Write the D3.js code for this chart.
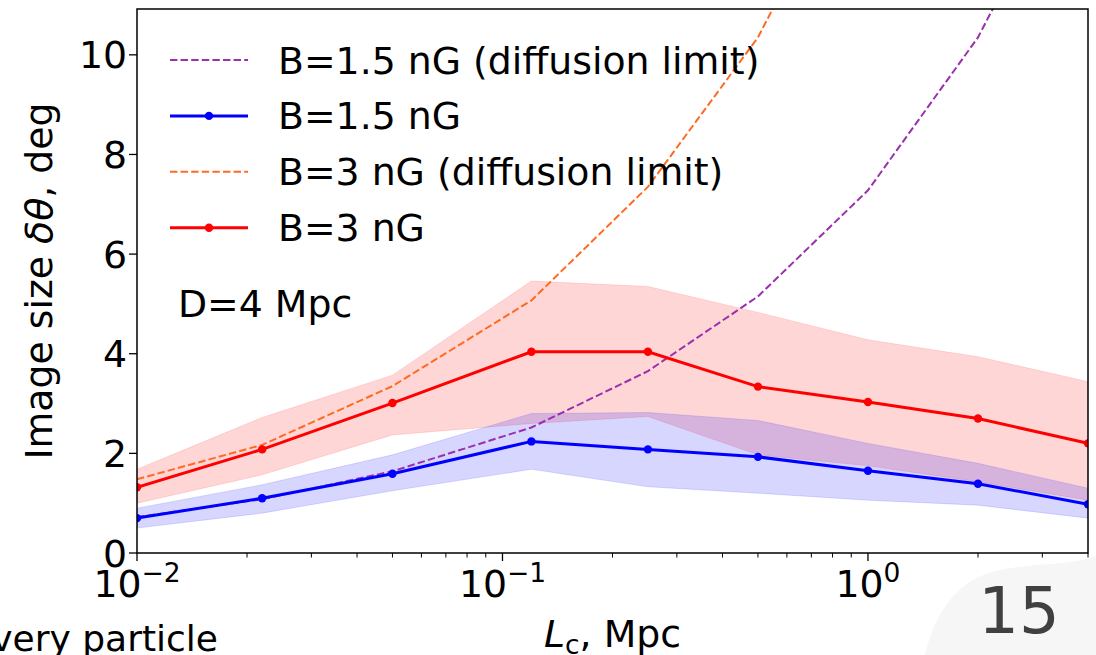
<!DOCTYPE html>
<html>
<head>
<meta charset="utf-8">
<script src="https://cdn.jsdelivr.net/npm/d3@7"></script>
<style>
  body { margin: 0; background: #fff; }
  text { font-family: "DejaVu Sans", sans-serif; fill: #000; }
</style>
</head>
<body>
<script>
const WIDTH = 1096;
const HEIGHT = 655;
const LEFT = 137, RIGHT = 1088, TOP = 9, BOTTOM = 553;
const FONT = 37.8;

// correlation length, Mpc
const Lc = [0.01, 0.022, 0.05, 0.12, 0.25, 0.5, 1, 2, 4];

// B = 1.5 nG
const b15 = [0.70, 1.10, 1.59, 2.24, 2.08, 1.93, 1.65, 1.39, 0.98];
const b15Lo = [0.50, 0.80, 1.25, 1.68, 1.33, 1.20, 1.06, 0.96, 0.70];
const b15Hi = [0.90, 1.37, 1.97, 2.80, 2.82, 2.66, 2.20, 1.80, 1.30];

// B = 3 nG
const b3 = [1.32, 2.08, 3.01, 4.04, 4.04, 3.34, 3.03, 2.70, 2.20];
const b3Lo = [1.00, 1.57, 2.37, 2.60, 2.74, 1.97, 1.75, 1.43, 1.06];
const b3Hi = [1.68, 2.72, 3.57, 5.46, 5.35, 4.83, 4.28, 3.94, 3.44];

// diffusion limits
const b15Diff = [0.72, 1.08, 1.64, 2.52, 3.65, 5.15, 7.28, 10.35, 14.6];
const b3Diff = [1.48, 2.17, 3.35, 5.07, 7.35, 10.35, 14.6, 20.7, 29.2];

const yTicks = [0, 2, 4, 6, 8, 10];
const xTicks = [0.01, 0.1, 1];
const xTickExp = ["−2", "−1", "0"];

const legendItems = [
  { label: "B=1.5 nG (diffusion limit)", color: "#9a30ad", dashed: true },
  { label: "B=1.5 nG", color: "#0000ff", dashed: false },
  { label: "B=3 nG (diffusion limit)", color: "#ff6a22", dashed: true },
  { label: "B=3 nG", color: "#ff0000", dashed: false }
];

let svg = d3.select("body")
            .append("svg")
            .attr("width", WIDTH)
            .attr("height", HEIGHT);

// faint slide decoration bottom right
svg.append("path")
   .attr("d", "M925,655 C935,612 958,578 1000,570 C1040,562 1070,566 1096,556 L1096,655 Z")
   .attr("fill", "#f6f6f6");

let x = d3.scaleLog().domain([0.01, 4]).range([LEFT, RIGHT]);
let y = d3.scaleLinear().domain([0, 10.92]).range([BOTTOM, TOP]);

svg.append("clipPath")
   .attr("id", "plot-clip")
   .append("rect")
   .attr("x", LEFT).attr("y", TOP)
   .attr("width", RIGHT - LEFT).attr("height", BOTTOM - TOP);

let plot = svg.append("g").attr("clip-path", "url(#plot-clip)");

const band = (lo, hi) => d3.area()
  .x((d, i) => x(Lc[i]))
  .y0((d, i) => y(lo[i]))
  .y1((d, i) => y(hi[i]))(Lc);

const line = (vals) => d3.line()
  .x((d, i) => x(Lc[i]))
  .y((d, i) => y(vals[i]))(Lc);

plot.append("path")
    .attr("d", band(b3Lo, b3Hi))
    .attr("fill", "#ff0000").attr("fill-opacity", 0.16)
    .attr("stroke", "#ff0000").attr("stroke-opacity", 0.12);

plot.append("path")
    .attr("d", band(b15Lo, b15Hi))
    .attr("fill", "#0000ff").attr("fill-opacity", 0.16)
    .attr("stroke", "#0000ff").attr("stroke-opacity", 0.12);

plot.append("path")
    .attr("d", line(b15Diff))
    .attr("fill", "none").attr("stroke", legendItems[0].color)
    .attr("stroke-width", 2).attr("stroke-dasharray", "7.4,3.2");

plot.append("path")
    .attr("d", line(b3Diff))
    .attr("fill", "none").attr("stroke", legendItems[2].color)
    .attr("stroke-width", 2).attr("stroke-dasharray", "7.4,3.2");

[[b15, legendItems[1].color], [b3, legendItems[3].color]].forEach(([vals, color]) => {
  plot.append("path")
      .attr("d", line(vals))
      .attr("fill", "none").attr("stroke", color)
      .attr("stroke-width", 3);
  plot.selectAll(null)
      .data(vals).enter()
      .append("circle")
      .attr("cx", (d, i) => x(Lc[i]))
      .attr("cy", d => y(d))
      .attr("r", 4.2)
      .attr("fill", color);
});

// axes frame
svg.append("rect")
   .attr("x", LEFT).attr("y", TOP)
   .attr("width", RIGHT - LEFT).attr("height", BOTTOM - TOP)
   .attr("fill", "none").attr("stroke", "#000").attr("stroke-width", 1.5);

// y ticks
let yAxis = svg.append("g");
yAxis.selectAll("line")
     .data(yTicks).enter()
     .append("line")
     .attr("x1", LEFT - 8).attr("x2", LEFT)
     .attr("y1", d => y(d)).attr("y2", d => y(d))
     .attr("stroke", "#000").attr("stroke-width", 1.3);
yAxis.selectAll("text")
     .data(yTicks).enter()
     .append("text")
     .attr("x", LEFT - 10)
     .attr("y", d => y(d) + 13.5)
     .attr("text-anchor", "end")
     .attr("font-size", FONT)
     .text(d => d);

// x ticks, major and minor
let minor = [];
[0.01, 0.1, 1].forEach(dec => {
  for (let k = 2; k <= 9; k++) if (dec * k <= 4) minor.push(dec * k);
});
let xAxis = svg.append("g");
xAxis.selectAll("line.minor")
     .data(minor).enter()
     .append("line")
     .attr("x1", d => x(d)).attr("x2", d => x(d))
     .attr("y1", BOTTOM).attr("y2", BOTTOM + 4.5)
     .attr("stroke", "#000").attr("stroke-width", 1);
xAxis.selectAll("line.major")
     .data(xTicks).enter()
     .append("line")
     .attr("x1", d => x(d)).attr("x2", d => x(d))
     .attr("y1", BOTTOM).attr("y2", BOTTOM + 8)
     .attr("stroke", "#000").attr("stroke-width", 1.3);
let xLabels = xAxis.selectAll("text")
     .data(xTicks).enter()
     .append("text")
     .attr("x", d => x(d))
     .attr("y", 597)
     .attr("text-anchor", "middle")
     .attr("font-size", FONT);
xLabels.append("tspan").text("10");
xLabels.append("tspan")
       .attr("dy", -15)
       .attr("font-size", 26.5)
       .text((d, i) => xTickExp[i]);

// axis titles
let yTitle = svg.append("text")
   .attr("transform", `translate(52,${(TOP + BOTTOM) / 2}) rotate(-90)`)
   .attr("text-anchor", "middle")
   .attr("font-size", FONT);
yTitle.append("tspan").text("Image size ");
yTitle.append("tspan").attr("font-style", "italic").text("δθ");
yTitle.append("tspan").text(", deg");

let xTitle = svg.append("text")
   .attr("x", (LEFT + RIGHT) / 2)
   .attr("y", 647)
   .attr("text-anchor", "middle")
   .attr("font-size", FONT);
xTitle.append("tspan").attr("font-style", "italic").text("L");
xTitle.append("tspan").attr("font-size", 26.5).attr("dy", 7).text("c");
xTitle.append("tspan").attr("dy", -7).text(", Mpc");

// legend
let legend = svg.selectAll("g.legend")
                .data(legendItems).enter()
                .append("g")
                .attr("class", "legend")
                .attr("transform", (d, i) => `translate(0,${60 + i * 55.9})`);
legend.append("line")
      .attr("x1", 170).attr("x2", 248)
      .attr("stroke", d => d.color)
      .attr("stroke-width", d => d.dashed ? 2 : 3)
      .attr("stroke-dasharray", d => d.dashed ? "7.4,3.2" : null);
legend.filter(d => !d.dashed)
      .append("circle")
      .attr("cx", 209).attr("r", 4.2)
      .attr("fill", d => d.color);
legend.append("text")
      .attr("x", 278).attr("y", 13.5)
      .attr("font-size", FONT)
      .text(d => d.label);

svg.append("text")
   .attr("x", 178).attr("y", 317)
   .attr("font-size", FONT)
   .text("D=4 Mpc");

// slide leftovers
svg.append("text")
   .attr("x", 218).attr("y", 651)
   .attr("text-anchor", "end")
   .attr("font-size", 36)
   .text("every particle");

svg.append("text")
   .attr("x", 1019).attr("y", 633)
   .attr("text-anchor", "middle")
   .attr("font-size", 64)
   .style("fill", "#404040")
   .text("15");
</script>
</body>
</html>
